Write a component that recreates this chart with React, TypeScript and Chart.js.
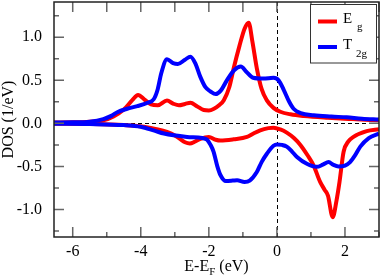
import React, { useEffect, useRef } from 'react';
import { Chart, registerables } from 'chart.js';

Chart.register(...registerables);

// Energy (eV) vs DOS (1/eV) pairs
const egUp: [number, number][] = [
  [-6.55, 0.01], [-6, 0.012], [-5.5, 0.02], [-5.1, 0.035], [-4.8, 0.08], [-4.5, 0.16], [-4.25, 0.27],
  [-4.08, 0.33], [-3.9, 0.28], [-3.7, 0.22], [-3.5, 0.21], [-3.23, 0.265], [-3.05, 0.23], [-2.88, 0.21],
  [-2.7, 0.225], [-2.54, 0.24], [-2.35, 0.2], [-2.15, 0.155], [-2.0, 0.15], [-1.85, 0.17], [-1.7, 0.21],
  [-1.56, 0.27], [-1.4, 0.42], [-1.27, 0.64], [-1.1, 0.9], [-0.95, 1.1], [-0.83, 1.17], [-0.72, 0.95],
  [-0.59, 0.64], [-0.45, 0.4], [-0.3, 0.27], [-0.1, 0.18], [0.1, 0.135], [0.4, 0.105], [0.8, 0.085],
  [1.5, 0.065], [2.2, 0.05], [3.0, 0.035],
];
const t2gUp: [number, number][] = [
  [-6.55, 0.01], [-6, 0.012], [-5.5, 0.02], [-5.1, 0.05], [-4.85, 0.09], [-4.69, 0.13], [-4.4, 0.17],
  [-4.1, 0.2], [-3.8, 0.24], [-3.62, 0.28], [-3.5, 0.4], [-3.4, 0.58], [-3.23, 0.745], [-3.05, 0.7],
  [-2.91, 0.69], [-2.7, 0.74], [-2.54, 0.775], [-2.4, 0.7], [-2.25, 0.54], [-2.1, 0.42], [-1.95, 0.37],
  [-1.8, 0.34], [-1.65, 0.38], [-1.47, 0.5], [-1.25, 0.62], [-1.06, 0.66], [-0.9, 0.6], [-0.7, 0.53],
  [-0.4, 0.52], [-0.1, 0.53], [0.05, 0.5], [0.2, 0.39], [0.35, 0.26], [0.49, 0.17], [0.7, 0.12],
  [1.08, 0.095], [1.6, 0.08], [2.05, 0.07], [2.5, 0.055], [3.0, 0.045],
];
const egDown: [number, number][] = [
  [-6.55, -0.005], [-5.5, -0.008], [-4.5, -0.02], [-3.91, -0.04], [-3.5, -0.07], [-3.23, -0.1],
  [-3.0, -0.14], [-2.85, -0.18], [-2.7, -0.22], [-2.56, -0.235], [-2.4, -0.21], [-2.25, -0.18],
  [-2.0, -0.157], [-1.8, -0.19], [-1.66, -0.2], [-1.27, -0.185], [-0.88, -0.157], [-0.7, -0.12],
  [-0.49, -0.08], [-0.25, -0.055], [-0.1, -0.05], [0.1, -0.07], [0.29, -0.107], [0.5, -0.17],
  [0.69, -0.25], [0.9, -0.37], [1.08, -0.49], [1.27, -0.68], [1.4, -0.77], [1.5, -0.84], [1.64, -1.09],
  [1.75, -0.9], [1.84, -0.68], [1.96, -0.33], [2.1, -0.21], [2.25, -0.157], [2.64, -0.09], [3.0, -0.068],
];
const t2gDown: [number, number][] = [
  [-6.55, -0.005], [-5.5, -0.008], [-4.5, -0.02], [-4.0, -0.04], [-3.6, -0.085], [-3.32, -0.118],
  [-2.64, -0.157], [-2.2, -0.17], [-2.05, -0.19], [-1.95, -0.25], [-1.86, -0.33], [-1.75, -0.5],
  [-1.66, -0.6], [-1.5, -0.67], [-1.3, -0.665], [-1.17, -0.66], [-0.95, -0.68], [-0.8, -0.665],
  [-0.59, -0.565], [-0.45, -0.45], [-0.29, -0.35], [-0.1, -0.26], [0.0, -0.245], [0.15, -0.25],
  [0.29, -0.27], [0.45, -0.33], [0.59, -0.39], [0.88, -0.47], [1.17, -0.505], [1.35, -0.48],
  [1.52, -0.45], [1.65, -0.48], [1.81, -0.5], [2.0, -0.49], [2.15, -0.45], [2.3, -0.37], [2.45, -0.27],
  [2.7, -0.17], [3.0, -0.118],
];

const xTickLabels = [-6, -4, -2, 0, 2];
const xMinorTicks = [-5, -3, -1, 1, 3];
const xTopTicks = [-6, -5, -4, -3, -2, -1, 0, 1, 2, 3];
const yTickLabels = [-1.0, -0.5, 0.0, 0.5, 1.0];
const yMinorTicks = [-1.25, -0.75, -0.25, 0.25, 0.75, 1.25];

const X_MIN = -6.55;
const X_MAX = 3.0;
const Y_MIN = -1.32;
const Y_MAX = 1.41;

const RED = '#ff0000';
const BLUE = '#0000ff';
const FONT = 'Liberation Serif';

const toPts = (arr: [number, number][]) => arr.map(([x, y]) => ({ x, y }));

const decorPlugin = {
  id: 'decor',
  beforeDatasetsDraw(chart: any) {
    const { ctx, chartArea: a, scales } = chart;
    const x0 = scales.x.getPixelForValue(0);
    const y0 = scales.y.getPixelForValue(0);
    ctx.save();
    ctx.strokeStyle = '#000';
    ctx.lineWidth = 1;
    ctx.setLineDash([4, 3]);
    ctx.beginPath();
    ctx.moveTo(a.left, Math.round(y0) + 0.5);
    ctx.lineTo(a.right, Math.round(y0) + 0.5);
    ctx.moveTo(Math.round(x0) + 0.5, a.top);
    ctx.lineTo(Math.round(x0) + 0.5, a.bottom);
    ctx.stroke();
    ctx.restore();
  },
  afterDraw(chart: any) {
    const { ctx, chartArea: a, scales } = chart;
    const xs = scales.x;
    const ys = scales.y;
    ctx.save();
    // ticks (inward)
    ctx.strokeStyle = '#666';
    ctx.lineWidth = 1.5;
    ctx.beginPath();
    const vt = (v: number, y: number, len: number) => {
      const px = xs.getPixelForValue(v);
      ctx.moveTo(px, y);
      ctx.lineTo(px, y + len);
    };
    xTickLabels.forEach((v) => vt(v, a.bottom, -10));
    xMinorTicks.forEach((v) => vt(v, a.bottom, -5));
    xTopTicks.forEach((v) => vt(v, a.top, 10));
    const ht = (v: number, x: number, len: number) => {
      const py = ys.getPixelForValue(v);
      ctx.moveTo(x, py);
      ctx.lineTo(x + len, py);
    };
    yTickLabels.forEach((v) => { ht(v, a.left, 10); ht(v, a.right, -10); });
    yMinorTicks.forEach((v) => { ht(v, a.left, 5); ht(v, a.right, -5); });
    ctx.stroke();

    // frame
    ctx.strokeStyle = '#222';
    ctx.lineWidth = 1.5;
    ctx.strokeRect(a.left, a.top, a.right - a.left, a.bottom - a.top);

    // legend
    const lx = a.right - 68.5;
    const ly = a.top + 2.5;
    ctx.fillStyle = '#fff';
    ctx.fillRect(lx, ly, 66, 58.5);
    ctx.strokeStyle = '#333';
    ctx.lineWidth = 1;
    ctx.strokeRect(lx, ly, 66, 58.5);
    ctx.lineWidth = 4;
    ctx.strokeStyle = RED;
    ctx.beginPath();
    ctx.moveTo(lx + 7.5, ly + 17);
    ctx.lineTo(lx + 26.5, ly + 17);
    ctx.stroke();
    ctx.strokeStyle = BLUE;
    ctx.beginPath();
    ctx.moveTo(lx + 7.5, ly + 42.5);
    ctx.lineTo(lx + 26.5, ly + 42.5);
    ctx.stroke();
    ctx.fillStyle = '#000';
    ctx.textAlign = 'left';
    ctx.textBaseline = 'alphabetic';
    ctx.font = `15px "${FONT}"`;
    ctx.fillText('E', lx + 32.5, ly + 18.5);
    ctx.fillText('T', lx + 32.5, ly + 44);
    ctx.font = `11px "${FONT}"`;
    ctx.fillText('g', lx + 46.5, ly + 25);
    ctx.fillText('2g', lx + 45.5, ly + 52);

    // x-axis title with subscript
    const cx = (a.left + a.right) / 2;
    const base = 271;
    ctx.font = `16px "${FONT}"`;
    const p1 = 'E-E';
    const p3 = ' (eV)';
    const w1 = ctx.measureText(p1).width;
    const w3 = ctx.measureText(p3).width;
    ctx.font = `11px "${FONT}"`;
    const w2 = ctx.measureText('F').width;
    const total = w1 + w2 + w3;
    let sx = cx - total / 2;
    ctx.font = `16px "${FONT}"`;
    ctx.fillText(p1, sx, base);
    sx += w1;
    ctx.font = `11px "${FONT}"`;
    ctx.fillText('F', sx, base + 4);
    sx += w2;
    ctx.font = `16px "${FONT}"`;
    ctx.fillText(p3, sx, base);
    ctx.restore();
  },
};

export default function App() {
  const ref = useRef<HTMLCanvasElement>(null);
  useEffect(() => {
    document.body.style.margin = '0';
    const canvas = ref.current;
    if (!canvas) return;
    const common = { borderWidth: 4, pointRadius: 0, fill: false, cubicInterpolationMode: 'monotone' as const };
    const chart = new Chart(canvas, {
      type: 'line',
      data: {
        datasets: [
          { label: 'T2g up', data: toPts(t2gUp), borderColor: BLUE, order: 0, ...common },
          { label: 'T2g down', data: toPts(t2gDown), borderColor: BLUE, order: 0, ...common },
          { label: 'Eg up', data: toPts(egUp), borderColor: RED, order: 1, ...common },
          { label: 'Eg down', data: toPts(egDown), borderColor: RED, order: 1, ...common },
        ],
      },
      options: {
        animation: false,
        responsive: false,
        devicePixelRatio: 1,
        layout: { padding: { top: 2, right: 3, left: 0, bottom: 0 } },
        plugins: { legend: { display: false }, tooltip: { enabled: false } },
        scales: {
          x: {
            type: 'linear',
            min: X_MIN,
            max: X_MAX,
            grid: { display: false },
            border: { display: false },
            afterBuildTicks: (s: any) => { s.ticks = xTickLabels.map((v) => ({ value: v })); },
            afterFit: (s: any) => { s.height = 43; s.paddingLeft = 0; s.paddingRight = 0; },
            ticks: {
              padding: -3,
              color: '#000',
              font: { family: FONT, size: 16 },
              callback: (v: any) => String(v),
              maxRotation: 0,
            },
          },
          y: {
            type: 'linear',
            min: Y_MIN,
            max: Y_MAX,
            grid: { display: false },
            border: { display: false },
            afterBuildTicks: (s: any) => { s.ticks = yTickLabels.map((v) => ({ value: v })); },
            afterFit: (s: any) => { s.width = 54; s.paddingTop = 0; s.paddingBottom = 0; },
            title: {
              display: true,
              text: 'DOS (1/eV)',
              color: '#000',
              font: { family: FONT, size: 16, lineHeight: 1 },
              padding: { top: 1, bottom: 0 },
            },
            ticks: {
              padding: 4,
              color: '#000',
              font: { family: FONT, size: 16 },
              callback: (v: any) => Number(v).toFixed(1),
            },
          },
        },
      },
      plugins: [decorPlugin],
    });
    return () => chart.destroy();
  }, []);
  return <canvas ref={ref} width={382} height={280} style={{ display: 'block' }} />;
}
